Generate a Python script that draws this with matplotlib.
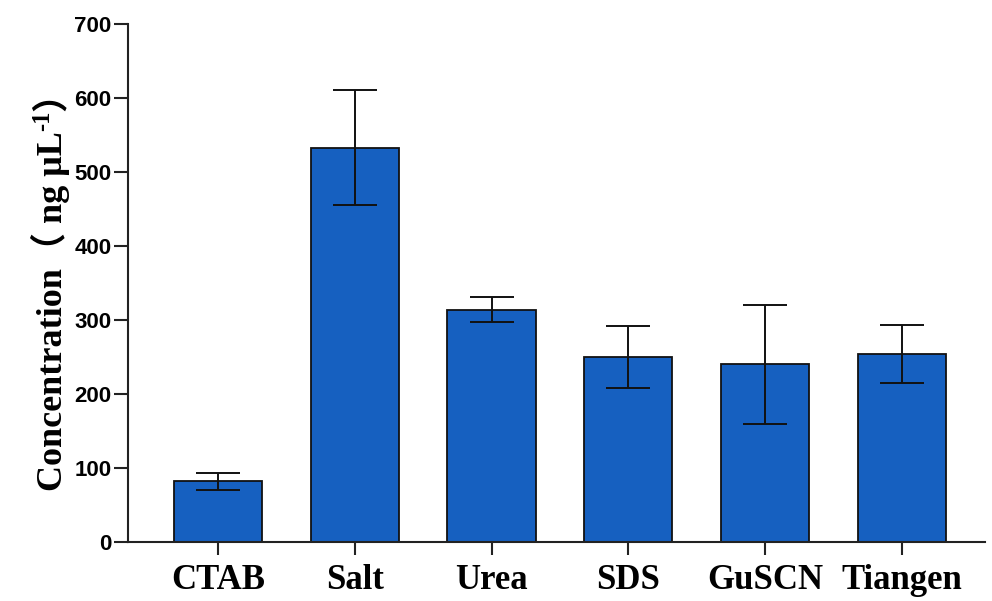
import matplotlib
matplotlib.use("Agg")
import matplotlib.pyplot as plt
import numpy as np

categories = ["CTAB", "Salt", "Urea", "SDS", "GuSCN", "Tiangen"]
means = [82, 533, 314, 250, 240, 254]
errors = [11, 78, 17, 42, 81, 39]
yticks = [0, 100, 200, 300, 400, 500, 600, 700]

W, H = 992, 601
fig = plt.figure(figsize=(W / 100, H / 100), dpi=100)
ax = fig.add_axes([0.129, 0.098, 0.864, 0.862])

x = np.arange(len(categories))
ax.bar(x, means, width=0.645, color="#1660c0", edgecolor="#111111", linewidth=1.3, zorder=2)
ax.errorbar(x, means, yerr=errors, fmt="none", ecolor="#111111", elinewidth=1.4,
            capsize=15.5, capthick=1.4, zorder=3)

ax.set_xlim(-0.66, 5.61)
ax.set_ylim(0, 700)
ax.set_yticks(yticks)
ax.set_yticklabels([str(v) for v in yticks], fontfamily="Liberation Sans",
                   fontweight="bold", fontsize=16)
ax.set_xticks(x)
ax.set_xticklabels(categories, fontfamily="Liberation Serif", fontweight="bold", fontsize=25)

for s in ["top", "right"]:
    ax.spines[s].set_visible(False)
for s in ["left", "bottom"]:
    ax.spines[s].set_linewidth(1.5)
    ax.spines[s].set_color("#222222")

ax.tick_params(axis="y", direction="out", length=10, width=1.5, pad=2, colors="#222222")
ax.tick_params(axis="x", direction="out", length=9, width=1.5, pad=7, colors="#222222")
for lbl in ax.get_yticklabels() + ax.get_xticklabels():
    lbl.set_color("black")

# y-axis label built from pieces (main text, superscript "-1", closing paren)
fam = ["Liberation Serif", "DejaVu Serif", "Noto Sans CJK SC"]
fs = 26
renderer = fig.canvas.get_renderer()
pieces = [("Concentration\uff08 ng \u03bcL", fs, 0),
          ("-1", fs * 0.68, 13),
          ("\uff09", fs, 0)]
texts = []
for s, size, raise_px in pieces:
    t = fig.text(0, 0, s, rotation=90, rotation_mode="anchor", ha="left", va="baseline",
                 family=fam, fontweight="bold", fontsize=size, color="black")
    texts.append((t, raise_px))
lengths = [t.get_window_extent(renderer).height for t, _ in texts]
total = sum(lengths)
center_y = H - 283
base_x = 62
y0 = center_y - total / 2
for (t, raise_px), L in zip(texts, lengths):
    t.set_position(((base_x - raise_px) / W, y0 / H))
    y0 += L

fig.savefig("out.png", dpi=100)
